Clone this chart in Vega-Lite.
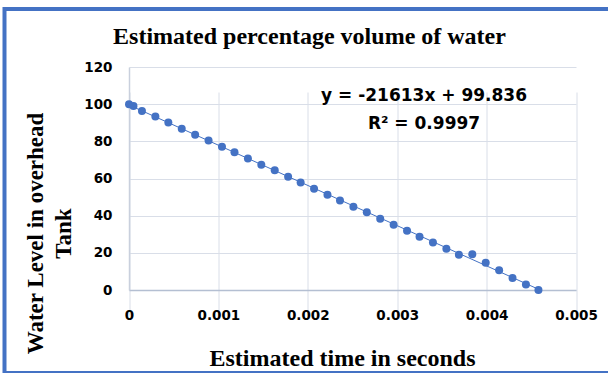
{
  "$schema": "https://vega.github.io/schema/vega-lite/v6.json",
  "width": 610,
  "height": 364,
  "autosize": {"type": "none"},
  "padding": {"left": 4.5, "top": 9, "right": 0, "bottom": 0},
  "background": "white",
  "view": {"stroke": "#4472C4", "strokeWidth": 4, "fill": "white"},
  "title": {
    "text": "Estimated percentage volume of water",
    "font": "Liberation Serif",
    "fontSize": 24,
    "fontWeight": "bold",
    "color": "black",
    "frame": "group",
    "anchor": "middle",
    "baseline": "alphabetic",
    "offset": -36,
    "dy": 23
  },
  "data": {
    "values": [
      {"x": 0, "y": 99.9},
      {"x": 0.00005, "y": 99.0},
      {"x": 0.000145, "y": 96.3},
      {"x": 0.000295, "y": 93.3},
      {"x": 0.00044, "y": 90.1},
      {"x": 0.00059, "y": 86.8},
      {"x": 0.00074, "y": 83.6},
      {"x": 0.00089, "y": 80.4},
      {"x": 0.00104, "y": 77.1},
      {"x": 0.00118, "y": 74.1},
      {"x": 0.00133, "y": 70.7},
      {"x": 0.00148, "y": 67.4},
      {"x": 0.00163, "y": 64.4},
      {"x": 0.00178, "y": 61.0},
      {"x": 0.00192, "y": 57.8},
      {"x": 0.00207, "y": 54.5},
      {"x": 0.00222, "y": 51.3},
      {"x": 0.00236, "y": 48.1},
      {"x": 0.00251, "y": 44.8},
      {"x": 0.00266, "y": 41.8},
      {"x": 0.00281, "y": 38.4},
      {"x": 0.00296, "y": 35.1},
      {"x": 0.00311, "y": 31.9},
      {"x": 0.00325, "y": 28.7},
      {"x": 0.0034, "y": 25.5},
      {"x": 0.00355, "y": 22.2},
      {"x": 0.00369, "y": 19.0},
      {"x": 0.00384, "y": 19.2},
      {"x": 0.00399, "y": 14.7},
      {"x": 0.00414, "y": 10.6},
      {"x": 0.00429, "y": 6.5},
      {"x": 0.00444, "y": 2.9},
      {"x": 0.00458, "y": 0}
    ]
  },
  "encoding": {
    "x": {
      "field": "x",
      "type": "quantitative",
      "scale": {"domain": [0, 0.005], "range": [124.5, 571.5], "nice": false, "zero": false},
      "axis": {
        "values": [0, 0.001, 0.002, 0.003, 0.004, 0.005],
        "format": "~g",
        "grid": true,
        "gridColor": "#d9dee8",
        "gridWidth": 1,
        "domainColor": "#b4bfd2",
        "domainWidth": 1.5,
        "ticks": false,
        "labelFont": "DejaVu Sans",
        "labelFontWeight": "bold",
        "labelFontSize": 13.5,
        "labelColor": "black",
        "labelPadding": 18,
        "labelFlush": false,
        "labelOverlap": false,
        "offset": -83,
        "title": "Estimated time in seconds",
        "titleFont": "Liberation Serif",
        "titleFontSize": 24,
        "titleFontWeight": "bold",
        "titleColor": "black",
        "titleX": 337.5,
        "titleY": 75,
        "titleAlign": "center",
        "titleBaseline": "alphabetic"
      }
    },
    "y": {
      "field": "y",
      "type": "quantitative",
      "scale": {"domain": [0, 120], "range": [281, 58], "nice": false},
      "axis": {
        "values": [0, 20, 40, 60, 80, 100, 120],
        "grid": true,
        "gridColor": "#d9dee8",
        "gridWidth": 1,
        "domainColor": "#c9d0dd",
        "domainWidth": 1.5,
        "ticks": false,
        "labelFont": "DejaVu Sans",
        "labelFontWeight": "bold",
        "labelFontSize": 13.5,
        "labelColor": "black",
        "labelPadding": 17,
        "labelFlush": false,
        "labelOverlap": false,
        "offset": -124.5,
        "title": ["Water Level in overhead", "Tank"],
        "titleFont": "Liberation Serif",
        "titleFontSize": 23,
        "titleFontWeight": "bold",
        "titleColor": "black",
        "titleLineHeight": 28,
        "titleAngle": -90,
        "titleX": -87,
        "titleY": 224,
        "titleAlign": "center",
        "titleBaseline": "alphabetic"
      }
    }
  },
  "layer": [
    {
      "transform": [{"regression": "y", "on": "x"}],
      "mark": {"type": "line", "color": "#4472C4", "strokeWidth": 1}
    },
    {
      "mark": {"type": "point", "filled": true, "size": 64, "color": "#4472C4", "opacity": 1}
    },
    {
      "transform": [{"filter": "datum.x === 0"}],
      "mark": {
        "type": "text",
        "font": "DejaVu Sans",
        "fontWeight": "bold",
        "fontSize": 17,
        "lineHeight": 28,
        "align": "center",
        "baseline": "alphabetic",
        "color": "black"
      },
      "encoding": {
        "x": {"datum": 0.0033, "type": "quantitative"},
        "y": {"datum": 101.7, "type": "quantitative"},
        "text": {"value": ["y = -21613x + 99.836", "R² = 0.9997"]}
      }
    }
  ]
}
